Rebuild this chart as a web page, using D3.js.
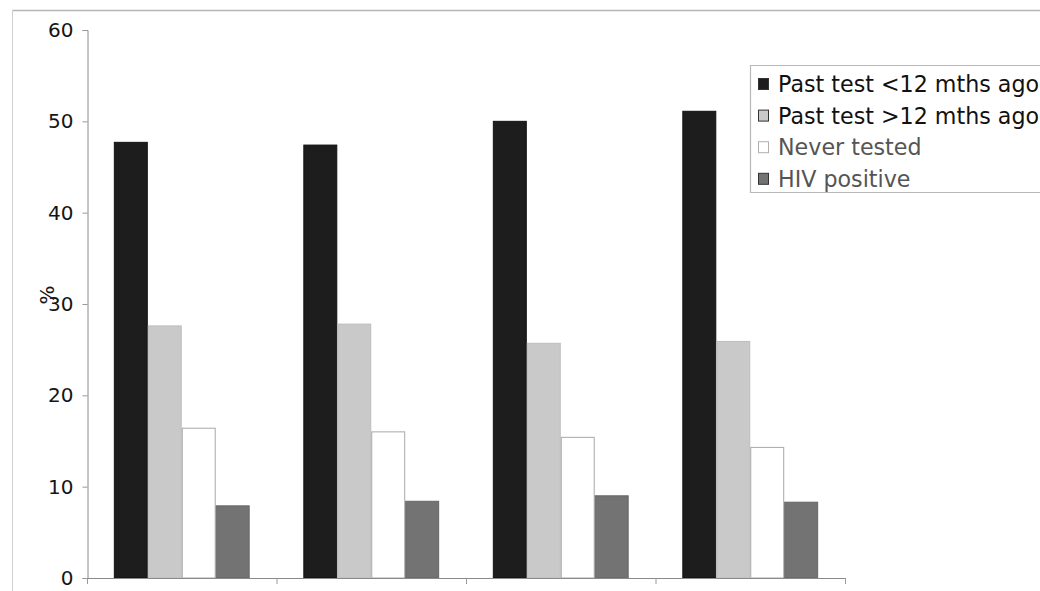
<!DOCTYPE html>
<html>
<head>
<meta charset="utf-8">
<script src="https://cdn.jsdelivr.net/npm/d3@7"></script>
<style>
  html, body { margin: 0; padding: 0; background: #fff; }
  svg { display: block; }
  text { font-family: "DejaVu Sans", Verdana, sans-serif; }
</style>
</head>
<body>
<svg id="chart" width="1040" height="591"></svg>
<script>
// HIV testing history by survey round (% of respondents)
const categories = ["Round 1", "Round 2", "Round 3", "Round 4"];
const seriesNames = ["Past test <12 mths ago", "Past test >12 mths ago", "Never tested", "HIV positive"];
const pastTestUnder12 = [47.7, 47.4, 50.0, 51.1];
const pastTestOver12 = [27.6, 27.8, 25.7, 25.9];
const neverTested = [16.4, 16.0, 15.4, 14.3];
const hivPositive = [7.9, 8.4, 9.0, 8.3];
const yTicks = [0, 10, 20, 30, 40, 50, 60];

const seriesValues = [pastTestUnder12, pastTestOver12, neverTested, hivPositive];
const fills = ["#1d1d1d", "#c9c9c9", "#ffffff", "#737373"];
const strokes = ["#111111", "#bdbdbd", "#a8a8a8", "#666666"];
const legendText = ["#111111", "#111111", "#555555", "#555555"];

const svg = d3.select("#chart");

// outer frame of the figure
svg.append("line").attr("x1", 12).attr("x2", 1040).attr("y1", 10.5).attr("y2", 10.5)
  .attr("stroke", "#b5b5b5").attr("stroke-width", 1.5);
svg.append("line").attr("x1", 12.5).attr("x2", 12.5).attr("y1", 10).attr("y2", 591)
  .attr("stroke", "#d0d0d0").attr("stroke-width", 1);

const plot = { left: 87, right: 845, top: 30, bottom: 578 };

const x = d3.scaleBand().domain(categories).range([plot.left, plot.right]).paddingInner(0).paddingOuter(0);
const xs = d3.scaleBand().domain(d3.range(seriesNames.length)).range([0, x.bandwidth()]).paddingInner(0).paddingOuter(0.79);
const y = d3.scaleLinear().domain([0, 60]).range([plot.bottom, plot.top]);

// bars
const rows = categories.map((c, i) => ({ c, vals: seriesValues.map(s => s[i]) }));
const groups = svg.append("g").selectAll("g").data(rows).join("g")
  .attr("transform", d => `translate(${x(d.c)},0)`);
groups.selectAll("rect").data(d => d.vals.map((v, k) => ({ v, k }))).join("rect")
  .attr("x", d => xs(d.k) + 0.5)
  .attr("y", d => y(d.v))
  .attr("width", xs.bandwidth() - 1)
  .attr("height", d => y(0) - y(d.v))
  .attr("fill", d => fills[d.k])
  .attr("stroke", d => strokes[d.k])
  .attr("stroke-width", 1);

// y axis
const yAxis = d3.axisLeft(y).tickValues(yTicks).tickSize(5).tickPadding(9).tickFormat(d3.format("d"));
const gy = svg.append("g").attr("transform", `translate(${plot.left + 0.5},0)`).call(yAxis);
gy.select(".domain").attr("stroke", "#8a8a8a");
gy.selectAll(".tick line").attr("stroke", "#9a9a9a");
gy.selectAll(".tick text").attr("fill", "#151515").style("font-size", "20px")
  .style("font-family", "'DejaVu Sans', Verdana, sans-serif");

// x axis (category boundaries only)
const boundaries = categories.map(c => x(c)).concat([plot.right]);
const gx = svg.append("g");
gx.append("line").attr("x1", plot.left).attr("x2", plot.right)
  .attr("y1", plot.bottom + 0.5).attr("y2", plot.bottom + 0.5).attr("stroke", "#8a8a8a");
gx.selectAll("line.tk").data(boundaries).join("line").attr("class", "tk")
  .attr("x1", d => d + 0.5).attr("x2", d => d + 0.5)
  .attr("y1", plot.bottom).attr("y2", plot.bottom + 6).attr("stroke", "#9a9a9a");

// y axis title
svg.append("text").attr("transform", "translate(54,295) rotate(-90)")
  .attr("text-anchor", "middle").attr("fill", "#151515").style("font-size", "20px").text("%");

// legend
const lg = svg.append("g");
lg.append("path").attr("d", "M1040,65.5 H750.5 V192.5 H1040")
  .attr("fill", "#fff").attr("stroke", "#b8b8b8").attr("stroke-width", 1.2);
const items = lg.selectAll("g.item").data(seriesNames).join("g").attr("class", "item")
  .attr("transform", (d, i) => `translate(0,${92 + i * 31.6})`);
items.append("rect").attr("x", 758.5).attr("y", -13.5).attr("width", 10).attr("height", 11)
  .attr("fill", (d, i) => fills[i]).attr("stroke", (d, i) => i === 2 ? "#b0b0b0" : "#333")
  .attr("stroke-width", 1);
items.append("text").attr("x", 778).attr("y", 0).attr("fill", (d, i) => legendText[i])
  .style("font-size", "22.2px").text(d => d);
</script>
</body>
</html>
